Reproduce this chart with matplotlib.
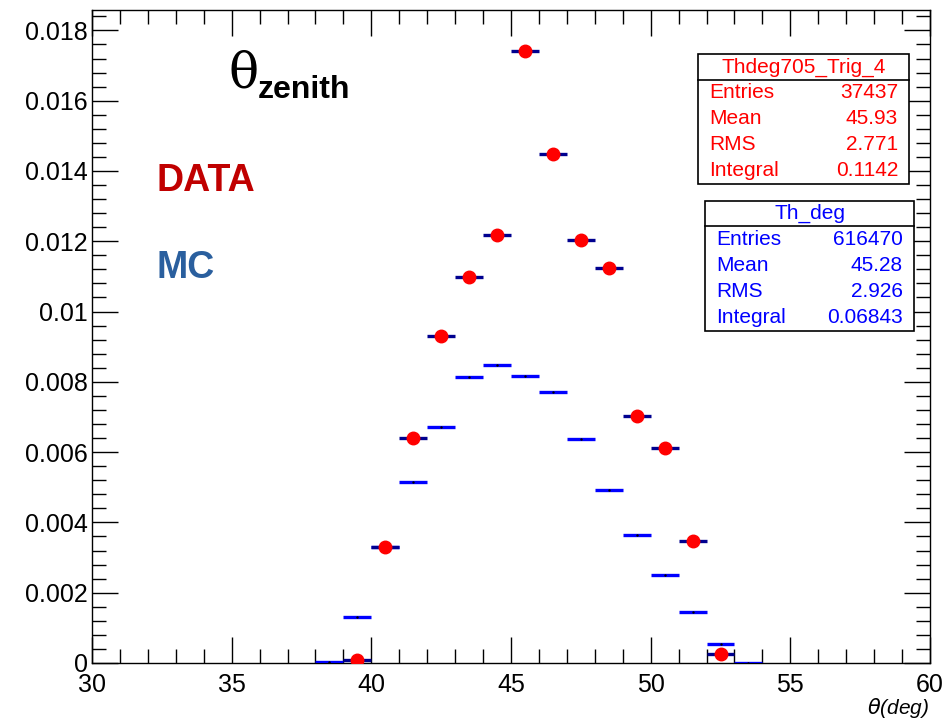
import numpy as np
import matplotlib.pyplot as plt
from matplotlib.ticker import MultipleLocator, FixedLocator, FuncFormatter
from matplotlib.patches import Rectangle

plt.rcParams['font.family'] = ['Liberation Sans', 'DejaVu Sans']

# MC histogram (bin centers, normalised contents)
mc_x = [38.5, 39.5, 40.5, 41.5, 42.5, 43.5, 44.5, 45.5, 46.5, 47.5,
        48.5, 49.5, 50.5, 51.5, 52.5, 53.5]
mc_y = [0.00003, 0.00131, 0.0033, 0.00515, 0.00671, 0.00814, 0.00848, 0.00816,
        0.00771, 0.00637, 0.00492, 0.00364, 0.00250, 0.00145, 0.00054, 0.00001]

# DATA points
data_x = [39.5, 40.5, 41.5, 42.5, 43.5, 44.5, 45.5, 46.5, 47.5, 48.5,
          49.5, 50.5, 51.5, 52.5]
data_y = [0.00008, 0.0033, 0.0064, 0.0093, 0.01098, 0.01218, 0.01740, 0.01448,
          0.01203, 0.01124, 0.00703, 0.00612, 0.00347, 0.00026]
data_err = [0.00002, 0.00005, 0.00006, 0.00007, 0.00008, 0.00008, 0.0001, 0.00009,
            0.00008, 0.00008, 0.00006, 0.00006, 0.00005, 0.00002]

ytick_labels = ['0', '0.002', '0.004', '0.006', '0.008', '0.01',
                '0.012', '0.014', '0.016', '0.018']

data_stats = [('Entries', '37437'), ('Mean', '45.93'), ('RMS', '2.771'), ('Integral', '0.1142')]
mc_stats = [('Entries', '616470'), ('Mean', '45.28'), ('RMS', '2.926'), ('Integral', '0.06843')]

W, H = 946, 721
fig = plt.figure(figsize=(W / 100, H / 100), dpi=100)
ax = fig.add_axes([92 / W, 1 - 663 / H, (930 - 92) / W, (663 - 10) / H])

# MC as horizontal bin-width bars
mc_x = np.array(mc_x)
ax.hlines(mc_y, mc_x - 0.5, mc_x + 0.5, colors='#0000ff', lw=2.4, zorder=3)
ax.plot(mc_x, mc_y, ls='none', marker='.', ms=1.5, color='k', zorder=4)

# DATA points with errors
ax.errorbar(data_x, data_y, xerr=0.5, yerr=data_err, fmt='o', ms=9,
            mfc='#ff0000', mec='#ff0000', ecolor='#00008f', elinewidth=2.4,
            capsize=0, zorder=5)

ax.set_xlim(30, 60)
ax.set_ylim(0, 0.01858)

ax.xaxis.set_major_locator(MultipleLocator(5))
ax.xaxis.set_minor_locator(MultipleLocator(1))
ax.yaxis.set_major_locator(FixedLocator([0.002 * i for i in range(10)]))
ax.yaxis.set_minor_locator(MultipleLocator(0.0004))
ax.yaxis.set_major_formatter(FuncFormatter(lambda v, p: ytick_labels[int(round(v / 0.002))]
                                           if int(round(v / 0.002)) < len(ytick_labels) else ''))
ax.tick_params(which='both', direction='in', top=True, right=True, labelsize=18)
ax.tick_params(which='major', length=19, width=1)
ax.tick_params(which='minor', length=10, width=1)
ax.tick_params(axis='x', pad=7)
ax.tick_params(axis='y', pad=3)
for s in ax.spines.values():
    s.set_linewidth(1)

fig.text(929 / W, 1 - 708 / H, r'$\theta$(deg)', style='italic', fontsize=15,
         ha='right', va='center')


def fx(x):
    return x / W


def fy(y):
    return 1 - y / H


# annotations
fig.text(fx(228), fy(74), 'θ', fontsize=36, family='DejaVu Serif', ha='left', va='center')
fig.text(fx(258), fy(90), 'zenith', fontsize=23, fontweight='bold', ha='left', va='center')
fig.text(fx(156), fy(181), 'DATA', fontsize=27, fontweight='bold', color='#c00000',
         ha='left', va='center')
fig.text(fx(156), fy(268), 'MC', fontsize=27, fontweight='bold', color='#2a5f9e',
         ha='left', va='center')


def stat_box(x0, y0, x1, y1, sep, title, rows, color):
    fig.patches.append(Rectangle((fx(x0), fy(y1)), fx(x1) - fx(x0), fy(y0) - fy(y1),
                                 transform=fig.transFigure, fill=True, fc='white',
                                 ec='black', lw=1.2, zorder=10))
    fig.lines.append(plt.Line2D([fx(x0), fx(x1)], [fy(sep), fy(sep)],
                                transform=fig.transFigure, color='black', lw=1.2, zorder=11))
    fig.text(fx((x0 + x1) / 2), fy((y0 + sep) / 2), title, color=color, fontsize=15,
             ha='center', va='center', zorder=12)
    step = (y1 - sep) / len(rows)
    for i, (k, v) in enumerate(rows):
        yy = sep + step * (i + 0.5)
        fig.text(fx(x0 + 11), fy(yy), k, color=color, fontsize=15, ha='left', va='center', zorder=12)
        fig.text(fx(x1 - 11), fy(yy), v, color=color, fontsize=15, ha='right', va='center', zorder=12)


stat_box(698, 54, 909, 184, 80, 'Thdeg705_Trig_4', data_stats, '#ff0000')
stat_box(705, 201, 914, 331, 226, 'Th_deg', mc_stats, '#0000ff')

fig.savefig('out.png', dpi=100)
